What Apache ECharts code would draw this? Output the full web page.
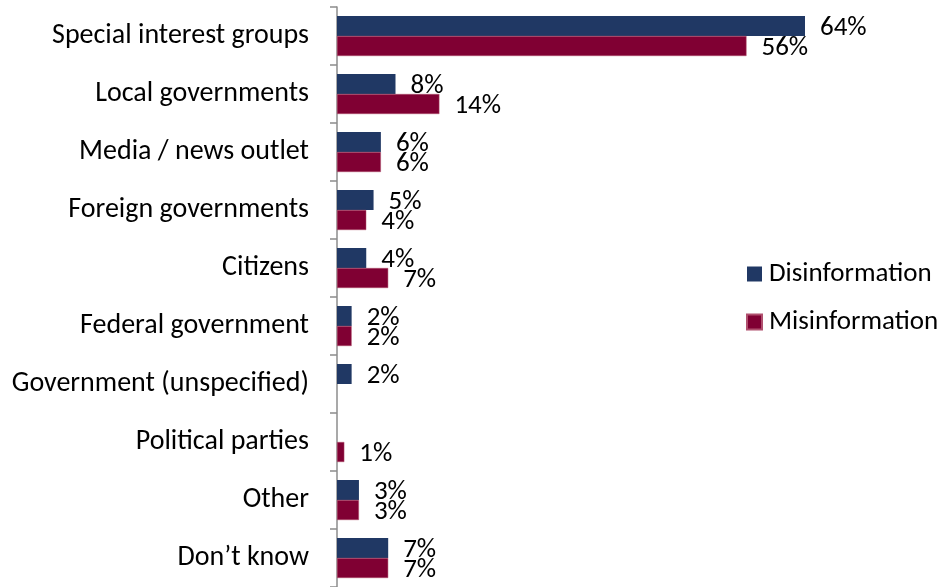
<!DOCTYPE html>
<html>
<head>
<meta charset="utf-8">
<script src="https://cdn.jsdelivr.net/npm/echarts@6/dist/echarts.min.js"></script>
<style>
  html, body { margin: 0; padding: 0; background: #fff; }
  #chart { width: 942px; height: 587px; }
</style>
</head>
<body>
<div id="chart"></div>
<script>
// Who is seen as the source of false information
const categories = [
  'Special interest groups',
  'Local governments',
  'Media / news outlet',
  'Foreign governments',
  'Citizens',
  'Federal government',
  'Government (unspecified)',
  'Political parties',
  'Other',
  'Don\u2019t know'
];
const disinformation = [64, 8, 6, 5, 4, 2, 2, null, 3, 7];
const misinformation = [56, 14, 6, 4, 7, 2, null, 1, 3, 7];

const FONT = 'Calibri, Carlito, Lato, sans-serif';

const chart = echarts.init(document.getElementById('chart'));

const labelCfg = {
  show: true,
  position: 'right',
  distance: 15,
  offset: [0, 2],
  color: '#000',
  fontFamily: FONT,
  fontSize: 27,
  formatter: p => p.value + '%'
};

chart.setOption({
  animation: false,
  textStyle: { fontFamily: FONT },
  grid: { left: 337, right: 20, top: 7, bottom: 0, containLabel: false },
  legend: {
    orient: 'vertical',
    left: 741,
    top: 253,
    itemWidth: 15,
    itemHeight: 15,
    itemGap: 16,
    icon: 'rect',
    textStyle: { fontFamily: FONT, fontSize: 27, color: '#000', lineHeight: 32, padding: [0, 0, 0, 2] },
    data: ['Disinformation', 'Misinformation']
  },
  xAxis: {
    type: 'value',
    min: 0,
    max: 80,
    show: false
  },
  yAxis: {
    type: 'category',
    data: categories,
    inverse: true,
    axisLine: { show: true, lineStyle: { color: '#8c8c8c', width: 1.5 } },
    axisTick: { show: true, length: 7, lineStyle: { color: '#8c8c8c', width: 1.5 } },
    axisLabel: { margin: 28, color: '#000', fontFamily: FONT, fontSize: 28 }
  },
  series: [
    {
      name: 'Disinformation',
      type: 'bar',
      data: disinformation,
      barGap: '0%',
      barCategoryGap: '31%',
      itemStyle: { color: '#203864' },
      label: labelCfg
    },
    {
      name: 'Misinformation',
      type: 'bar',
      data: misinformation,
      itemStyle: { color: '#800033', borderColor: '#b0506e', borderWidth: 0.5 },
      label: labelCfg
    }
  ]
});
</script>
</body>
</html>
